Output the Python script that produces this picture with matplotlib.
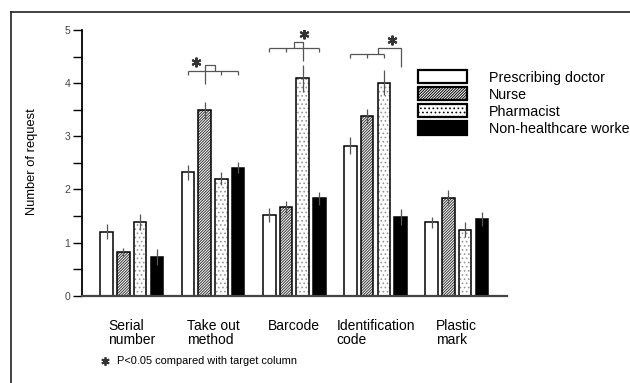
import numpy as np
import matplotlib.pyplot as plt
from matplotlib.lines import Line2D

plt.rcParams['font.family'] = ['Liberation Sans', 'DejaVu Sans']
plt.rcParams['hatch.linewidth'] = 0.7

categories = ["Serial\nnumber", "Take out\nmethod", "Barcode", "Identification\ncode", "Plastic\nmark"]
series = ["Prescribing doctor", "Nurse", "Pharmacist", "Non-healthcare worker"]

doctor = [1.20, 2.32, 1.52, 2.82, 1.38]
nurse = [0.82, 3.49, 1.66, 3.38, 1.84]
pharmacist = [1.38, 2.20, 4.09, 4.01, 1.24]
non_hc = [0.72, 2.41, 1.83, 1.48, 1.44]

doctor_err = [0.14, 0.14, 0.13, 0.16, 0.10]
nurse_err = [0.08, 0.16, 0.13, 0.14, 0.14]
pharmacist_err = [0.15, 0.12, 0.25, 0.24, 0.14]
non_hc_err = [0.15, 0.11, 0.12, 0.15, 0.13]

# significance brackets (group, lower span slots, tick slots, target slot, join slot, levels)
sig_group = [1, 2, 3]
sig_span = [(0, 3), (0, 3), (0, 2)]
sig_ticks = [[0, 2, 3], [0, 1, 3], [0, 1, 2]]
sig_target = [1, 2, 3]
sig_join = [1.6, 1.47, 1.67]
sig_low = [4.23, 4.67, 4.55]
sig_high = [4.34, 4.78, 4.66]
sig_drop = [3.98, 4.42, 4.30]
sig_star_slot = [0.5, 2.1, 2.5]
sig_star_y = [4.40, 4.92, 4.81]

values = [doctor, nurse, pharmacist, non_hc]
errors = [doctor_err, nurse_err, pharmacist_err, non_hc_err]
faces = ['white', 'white', 'white', 'black']
hatches = [None, '////////////', '....', None]
hatch_cols = ['black', '#333333', '#999999', 'black']

slot = 0.2056
width = 0.155
x = np.arange(len(categories))


def slot_x(g, s):
    return g + (s - 1.5) * slot


fig = plt.figure(figsize=(6.3, 3.83), dpi=100)
ax = fig.add_axes([82 / 630, 1 - 295.7 / 383, 425 / 630, 265.7 / 383])

handles = []
for i in range(4):
    # hatch layer (hatch takes the edge colour), then black outline on top
    ax.bar(slot_x(x, i), values[i], width, color=faces[i], edgecolor=hatch_cols[i],
           hatch=hatches[i], linewidth=0, zorder=2)
    ax.bar(slot_x(x, i), values[i], width, color='none', edgecolor='black',
           linewidth=1.1, zorder=2.5)
    ax.errorbar(slot_x(x, i), values[i], yerr=errors[i], fmt='none',
                ecolor='#555555', elinewidth=0.9, capsize=0, zorder=3)
    h = plt.Rectangle((0, 0), 1, 1, facecolor=faces[i], edgecolor='black',
                      hatch=hatches[i], linewidth=1.6, label=series[i])
    handles.append(h)

br = dict(color='#555555', lw=0.9, solid_capstyle='butt')
tick = 0.08
for k in range(len(sig_group)):
    g = sig_group[k]
    a, b = sig_span[k]
    ax.plot([slot_x(g, a), slot_x(g, b)], [sig_low[k]] * 2, **br)
    for t in sig_ticks[k]:
        ax.plot([slot_x(g, t)] * 2, [sig_low[k], sig_low[k] - tick], **br)
    xj = slot_x(g, sig_join[k])
    xt = slot_x(g, sig_target[k])
    ax.plot([xj, xj, xt, xt], [sig_low[k], sig_high[k], sig_high[k], sig_drop[k]], **br)
    ax.plot(slot_x(g, sig_star_slot[k]), sig_star_y[k], marker=(6, 2, 0),
            markersize=7, mew=1.5, color='#333333')

ax.set_xlim(-0.613, 4.618)
ax.set_ylim(0, 5)
ax.spines['top'].set_visible(False)
ax.spines['right'].set_visible(False)
ax.spines['left'].set_linewidth(1.3)
ax.spines['bottom'].set_linewidth(1.6)
ax.spines['bottom'].set_color('#444444')

yt = np.arange(0, 5.01, 0.5)
ax.set_yticks(yt)
ax.set_yticklabels([str(int(v)) if v == int(v) else '' for v in yt],
                   fontsize=7.5, color='#444444')
ax.tick_params(axis='y', direction='out', length=6.5, width=1, pad=2)
ax.set_xticks(x)
ax.set_xticklabels(categories, fontsize=10, va='top', multialignment='left')
for lab in ax.get_xticklabels():
    lab.set_linespacing(1.05)
ax.tick_params(axis='x', length=0, pad=16.5)

fig.text(32 / 630, 1 - 162 / 383, "Number of request", rotation=90,
         ha='center', va='center', fontsize=9.3)

ax.legend(handles=handles, loc='upper left', bbox_to_anchor=(418.3 / 630, 1 - 70 / 383),
          bbox_transform=fig.transFigure, frameon=False, fontsize=10.3,
          handlelength=3.4, handleheight=1.05, labelspacing=0.18,
          handletextpad=1.55, borderpad=0, borderaxespad=0)

# outer frame
fig.add_artist(Line2D([11 / 630, 1], [1 - 12 / 383] * 2, color='#222222', lw=1.2))
fig.add_artist(Line2D([11 / 630] * 2, [0, 1 - 12 / 383], color='#222222', lw=1.2))

# footnote
fig.add_artist(Line2D([105 / 630], [1 - 361 / 383], marker=(6, 2, 0), markersize=6,
                      mew=1.3, color='#333333'))
fig.text(116.7 / 630, 1 - 361 / 383, "P<0.05 compared with target column",
         fontsize=7.9, va='center', ha='left')

fig.savefig('out.png', dpi=100)
